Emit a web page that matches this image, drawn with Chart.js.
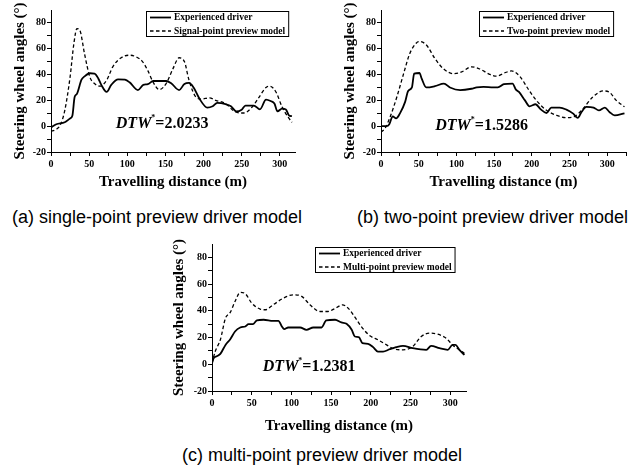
<!DOCTYPE html>
<html>
<head>
<meta charset="utf-8">
<script src="https://cdn.jsdelivr.net/npm/chart.js@4.4.1/dist/chart.umd.min.js"></script>
<style>
  html, body { margin:0; padding:0; background:#fff; }
  #wrap { position:relative; width:639px; height:473px; overflow:hidden; background:#fff; }
  canvas { position:absolute; }
  .cap { position:absolute; font-family:"Liberation Sans", Arial, sans-serif; font-size:18px; color:#000; white-space:nowrap; line-height:1; }
</style>
</head>
<body>
<div id="wrap">
  <canvas id="ca" width="320" height="200" style="left:0px;top:0px;"></canvas>
  <canvas id="cb" width="319" height="200" style="left:320px;top:0px;"></canvas>
  <canvas id="cc" width="320" height="215" style="left:160px;top:230px;"></canvas>
  <div class="cap" style="left:12px;top:208px;">(a) single-point preview driver model</div>
  <div class="cap" style="left:357px;top:208px;">(b) two-point preview driver model</div>
  <div class="cap" style="left:182px;top:446px;">(c) multi-point preview driver model</div>
</div>
<script>
// ---------- DATA ----------
const yTickValues = [-20, 0, 20, 40, 60, 80];
const xTickValues = [0, 50, 100, 150, 200, 250, 300];
const seriesLabels = ['Experienced driver', 'Signal-point preview model', 'Two-point preview model', 'Multi-point preview model'];
const dtwValues = ['2.0233', '1.5286', '1.2381'];

// (a) single-point
const aDriverX = [0,7,18,25,28,31,34,40,44,51,57,62,66,73,79,88,97,103,114,121,127,134,142,151,158,168,175,181,187,195,205,212,218,229,236,243,250,255,266,274,282,288,293,297,303,308,312,316];
const aDriverY = [-1,1.5,3,6,8,22.6,25,36,38.6,41,40.7,37,32,26.5,32,36.3,36,34,28,32,32.5,35,35,35,33,28,32.7,33.5,30,21,14.4,15.4,18,17,15.4,11.5,12.8,16,16,13,20.6,19.5,17.5,11.5,13.6,13,8.4,7.7];
const aModelX = [0,5,12,18,25,30,34,38,44,51,57,64,73,81,92,103,112,120,127,134,142,151,160,168,175,181,190,197,208,216,229,242,253,264,273,282,287,295,303,311,316];
const aModelY = [-4,-3,0.7,12,38,64,75.6,74,56,38,33,31,35.6,46,53,55,53.6,50,43,34,28.3,33,44.6,53,50,35.6,22.6,21,22,20,17.5,11,10.2,15,22.6,30,31,26.5,15,7,3];

// (b) two-point
const bDriverX = [0,7.5,11,15.5,20,25,32,36,41,44,51,54,60,71.5,83.5,91.5,105,120,127,136,149,155,163,174.5,179,183,191,197,205,212,219.5,226,237,246,255,261,266,272.5,282,289,297,303,310,323];
const bDriverY = [0,0,1.5,7.6,6,9.7,18.8,27.3,30,40.7,41.2,36.8,30,31,33,30,28,29,30,30.4,30,30,32.5,33,28.3,26.5,20,15.4,17,13,10.2,14.4,14.4,12.8,9.7,6.4,11,15,14.4,12.3,14.4,11,8.4,10];
const bModelX = [0,5,12,21,30,38,47,52,60.5,71.5,82.6,96,107,120,131,144,153,164,173,184,195,206,219.5,233,246,257,268,281,294.6,302.5,312,323];
const bModelY = [-4.5,-2,7,22.6,40.7,56,64.5,65.5,62.7,52.4,44.6,40.7,42,46,44.3,40.2,38.7,41.3,42.8,38.7,29,20,12.3,8.4,6.6,7.6,13.6,22.6,27.3,26.5,20,15];

// (c) multi-point
const cDriverX = [0,2,6,10.5,17,23,29,35.6,42,46,51.5,56.5,65,77,83.7,88,91,96,111,119,127.6,138,144,155,163,169.5,176,180,185,189.5,196.6,203,209,215.5,224,232,240.6,253,270,276,286.6,297,303,306.7,311.7,318];
const cDriverY = [0.75,4.5,6,7.8,14.5,18.8,24.5,27.5,28.3,30,30,32.8,33.3,32.5,32.5,28.3,26.3,27.5,27.5,25.8,27.5,27.5,32.8,33.3,31.3,30.3,25.8,20.8,20.3,15.8,15.3,12.8,9.5,9.5,11.3,12.8,13.8,12,10.8,13.8,12,10.8,14.5,14.5,10.8,7];
const cModelX = [0,4,10.5,17,23,29,35.6,42,50,60.7,67,77,90,102.5,113,123.4,136,146,157,164.4,171.5,180,188,199,209,220,228,240.6,253,263.6,274,284.5,295,303,311.7,318];
const cModelY = [0.75,9.5,18.3,34.5,38.8,47,53.8,52.8,45.8,41.3,40.8,44.5,49.5,52,50.8,44.5,39.5,39.5,42.5,44.5,42,35.3,28.3,21.3,18.3,14.5,11.8,10.8,13.3,20.8,23.3,22.5,19.5,14.5,10.8,8.3];

// ---------- HELPERS ----------
const zip = (xs, ys) => xs.map((x, i) => ({x: x, y: ys[i]}));
const SERIF = '"Liberation Serif", "Times New Roman", serif';

const boxLegend = {
  id: 'boxLegend',
  afterDatasetsDraw(chart, args, opts) {
    const ctx = chart.ctx, ca = chart.chartArea;
    ctx.save();
    ctx.font = 'bold 9.5px ' + SERIF;
    const items = chart.data.datasets;
    const lineLen = 21, gap = 3, padX = 4;
    const tw = Math.max(...items.map(d => ctx.measureText(d.label).width));
    const w = padX + lineLen + gap + tw + 3;
    const h = 25;
    const x = Math.round(ca.right - opts.right - w), y = Math.round(ca.top + opts.top);
    ctx.fillStyle = '#fff'; ctx.fillRect(x, y, w, h);
    ctx.strokeStyle = '#000'; ctx.lineWidth = 1; ctx.strokeRect(x + 0.5, y + 0.5, w, h);
    items.forEach((d, i) => {
      const cy = y + 6.5 + 13.5 * i;
      ctx.setLineDash(d.borderDash || []);
      ctx.lineWidth = d.borderWidth;
      ctx.beginPath(); ctx.moveTo(x + padX, cy); ctx.lineTo(x + padX + lineLen, cy); ctx.stroke();
      ctx.setLineDash([]);
      ctx.fillStyle = '#000'; ctx.textBaseline = 'middle'; ctx.textAlign = 'left';
      ctx.fillText(d.label, x + padX + lineLen + gap, cy + 0.5);
    });
    ctx.restore();
  }
};

const dtwText = {
  id: 'dtwText',
  afterDatasetsDraw(chart, args, opts) {
    const ctx = chart.ctx;
    const px = chart.scales.x.getPixelForValue(opts.x);
    const py = chart.scales.y.getPixelForValue(opts.y);
    ctx.save();
    ctx.fillStyle = '#000';
    ctx.textBaseline = 'middle';
    ctx.textAlign = 'left';
    ctx.font = 'italic bold 16px ' + SERIF;
    ctx.fillText('DTW', px, py);
    let xx = px + ctx.measureText('DTW').width;
    ctx.font = 'bold 8px ' + SERIF;
    ctx.fillText('*', xx, py - 6);
    xx += ctx.measureText('*').width;
    ctx.font = 'bold 16px ' + SERIF;
    ctx.fillText('=' + opts.value, xx, py);
    ctx.restore();
  }
};

function makeChart(id, cfg) {
  const ctx = document.getElementById(id);
  return new Chart(ctx, {
    type: 'line',
    data: {
      datasets: [
        { label: seriesLabels[0], data: zip(cfg.dX, cfg.dY), borderColor: '#000', borderWidth: 1.8,
          pointRadius: 0, fill: false, cubicInterpolationMode: 'monotone' },
        { label: cfg.modelLabel, data: zip(cfg.mX, cfg.mY), borderColor: '#000', borderWidth: 1.3,
          borderDash: [3.5, 2.5], pointRadius: 0, fill: false, cubicInterpolationMode: 'monotone' }
      ]
    },
    options: {
      responsive: false,
      animation: false,
      devicePixelRatio: 1,
      layout: { padding: { top: cfg.padTop, right: cfg.padRight, left: 0, bottom: 0 } },
      plugins: {
        legend: { display: false },
        tooltip: { enabled: false },
        boxLegend: cfg.legendPos,
        dtwText: { x: cfg.dtw[0], y: cfg.dtw[1], value: cfg.dtwValue }
      },
      scales: {
        x: {
          type: 'linear', min: 0, max: cfg.xMax,
          afterFit: s => { s.height = cfg.xH; },
          border: { display: true, color: '#000', width: 1 },
          grid: { drawOnChartArea: false, drawTicks: true, tickLength: 4, color: '#000', tickColor: '#000' },
          ticks: {
            stepSize: 25, includeBounds: false, autoSkip: false, maxRotation: 0, padding: 2,
            color: '#000', font: { family: SERIF, size: 10, weight: 'bold' },
            callback: v => xTickValues.includes(v) ? String(v) : ''
          },
          title: { display: true, text: 'Travelling distance (m)', color: '#000',
            font: { family: SERIF, size: 15, weight: 'bold' }, padding: { top: 0, bottom: cfg.xTitlePad } }
        },
        y: {
          type: 'linear', min: -20, max: 90,
          afterFit: s => { s.width = cfg.yW; },
          border: { display: true, color: '#000', width: 1 },
          grid: { drawOnChartArea: false, drawTicks: true, tickLength: 4, color: '#000',
            tickColor: c => (c.tick && c.tick.value === 90) ? 'rgba(0,0,0,0)' : '#000' },
          ticks: {
            stepSize: 10, includeBounds: false, autoSkip: false, padding: 1,
            color: '#000', font: { family: SERIF, size: 10, weight: 'bold' },
            callback: v => yTickValues.includes(v) ? String(v) : ''
          },
          title: { display: true, text: 'Steering wheel angles (°)', color: '#000',
            font: { family: SERIF, size: 15, weight: 'bold' }, padding: { top: cfg.yTitlePad, bottom: 0 } }
        }
      }
    },
    plugins: [boxLegend, dtwText]
  });
}

makeChart('ca', { dX: aDriverX, dY: aDriverY, mX: aModelX, mY: aModelY, modelLabel: seriesLabels[1],
  xMax: 320, padTop: 10, padRight: 25, xH: 48, yW: 51, xTitlePad: 9, yTitlePad: 11,
  legendPos: { right: 7, top: 1 }, dtw: [85, 1.5], dtwValue: dtwValues[0] });

makeChart('cb', { dX: bDriverX, dY: bDriverY, mX: bModelX, mY: bModelY, modelLabel: seriesLabels[2],
  xMax: 325, padTop: 10, padRight: 13, xH: 48, yW: 61, xTitlePad: 9, yTitlePad: 21,
  legendPos: { right: 13, top: 1 }, dtw: [72, 0], dtwValue: dtwValues[1] });

makeChart('cc', { dX: cDriverX, dY: cDriverY, mX: cModelX, mY: cModelY, modelLabel: seriesLabels[3],
  xMax: 320, padTop: 14, padRight: 14, xH: 54, yW: 52, xTitlePad: 10, yTitlePad: 10,
  legendPos: { right: 11, top: 3 }, dtw: [64, -2], dtwValue: dtwValues[2] });
</script>
</body>
</html>
